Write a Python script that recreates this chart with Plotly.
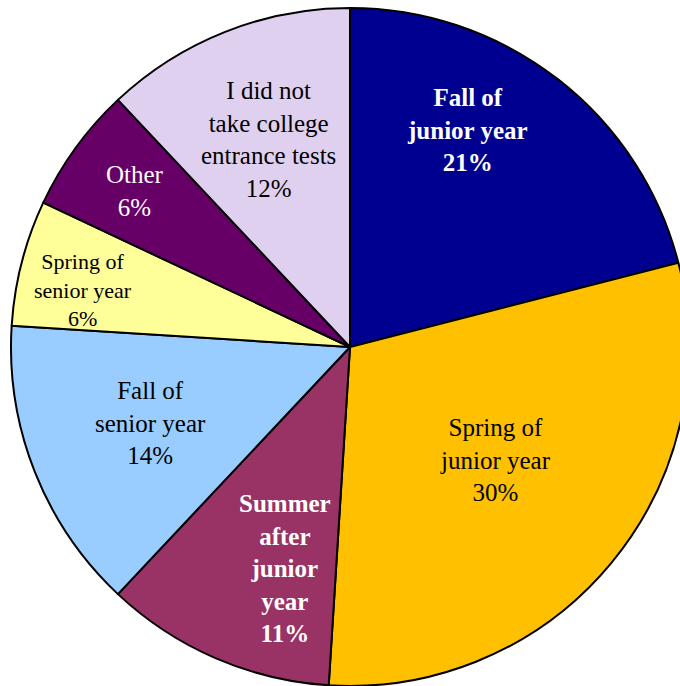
import plotly.graph_objects as go

# Share of respondents by when they first took a college entrance test
categories = [
    "Fall of junior year",
    "Spring of junior year",
    "Summer after junior year",
    "Fall of senior year",
    "Spring of senior year",
    "Other",
    "I did not take college entrance tests",
]
percentages = [21, 30, 11, 14, 6, 6, 12]

# Slice label text as it is wrapped inside the pie
label_lines = [
    ["Fall of", "junior year"],
    ["Spring of", "junior year"],
    ["Summer", "after", "junior", "year"],
    ["Fall of", "senior year"],
    ["Spring of", "senior year"],
    ["Other"],
    ["I did not", "take college", "entrance tests"],
]

colors = ["#000090", "#FFC000", "#993366", "#99CCFF", "#FFFF99", "#660066", "#E0D0F0"]

# Label styling and placement (pixel centres within the figure)
label_bold = [True, False, True, False, False, False, False]
label_color = ["white", "black", "white", "black", "black", "white", "black"]
label_size = [25, 25, 25, 25, 22, 25, 25]
label_px = [(467, 130), (495, 460), (285, 568), (150, 423), (83, 290), (135, 191), (268, 139)]

W, H = 700, 694
M_T, M_B = 8, 8

fig = go.Figure(
    go.Pie(
        labels=categories,
        values=percentages,
        sort=False,
        direction="clockwise",
        rotation=0,
        marker=dict(colors=colors, line=dict(color="black", width=2)),
        textinfo="none",
        hoverinfo="label+percent",
        showlegend=False,
    )
)

annotations = []
for lines, pct, bold, col, size, (px, py) in zip(
    label_lines, percentages, label_bold, label_color, label_size, label_px
):
    text = "<br>".join(lines + [f"{pct}%"])
    if bold:
        text = f"<b>{text}</b>"
    annotations.append(
        dict(
            text=text,
            x=px / W,
            y=1 - (py - M_T) / (H - M_T - M_B),
            xref="paper",
            yref="paper",
            xanchor="center",
            yanchor="middle",
            showarrow=False,
            align="center",
            font=dict(family="Liberation Serif", size=size, color=col),
        )
    )

fig.update_layout(
    width=W,
    height=H,
    margin=dict(l=0, r=0, t=M_T, b=M_B, pad=0),
    paper_bgcolor="white",
    plot_bgcolor="white",
    annotations=annotations,
)

fig.write_html(
    "out.html",
    config={"displayModeBar": False},
    post_script=(
        "document.body.style.margin='0';"
        "document.body.style.overflow='hidden';"
        "document.documentElement.style.overflow='hidden';"
    ),
)
